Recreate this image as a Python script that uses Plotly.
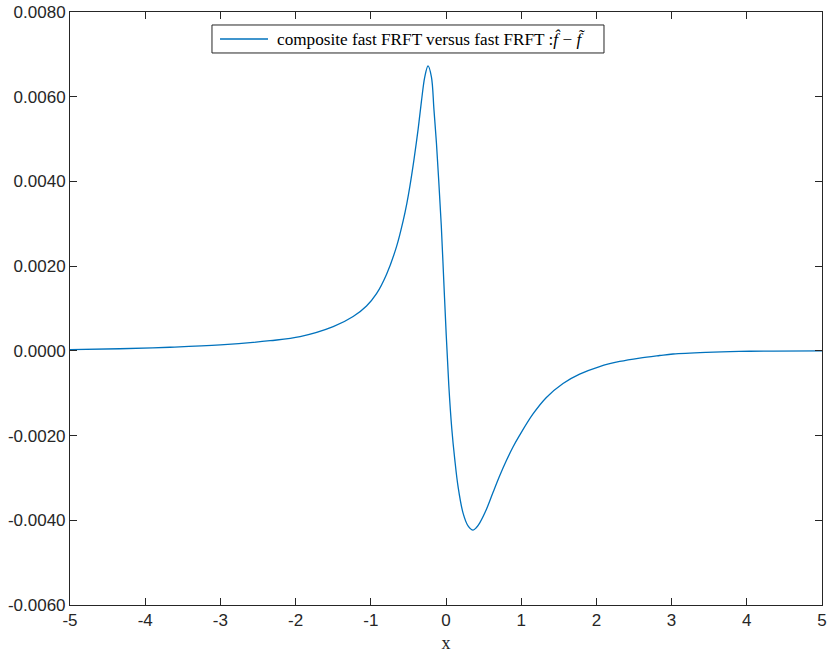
import plotly.graph_objects as go

# values
x_vals = [-5.0, -4.34, -3.67, -3.0, -2.34, -1.94, -1.5, -1.235, -1.057,
          -0.924, -0.79, -0.658, -0.57, -0.52, -0.48, -0.424, -0.371, -0.326, -0.282,
          -0.239, -0.194, -0.16, -0.127, -0.096, -0.063, -0.030, 0.003, 0.037, 0.076,
          0.116, 0.16, 0.227, 0.293, 0.36, 0.405, 0.449, 0.538, 0.626, 0.714, 0.803,
          0.891, 0.98, 1.157, 1.335, 1.556, 1.777, 2.043, 2.31, 2.575, 2.84, 3.02,
          3.46, 3.90, 4.35, 5.0]
err_vals = [0.000028, 0.00005, 0.000085, 0.00014, 0.00024, 0.000335, 0.00057,
            0.00081, 0.00106, 0.00135, 0.00181, 0.00246, 0.00307, 0.00349, 0.00389,
            0.00454, 0.00523, 0.00590, 0.00647, 0.00673, 0.00647, 0.00569,
            0.0049, 0.00400, 0.00297, 0.00167, 0.000375, -0.000805, -0.00182,
            -0.00255, -0.0032, -0.00383, -0.00413, -0.00423, -0.00417, -0.00406,
            -0.00374, -0.00334, -0.00295, -0.00259, -0.00227, -0.00199, -0.00149,
            -0.00110, -0.00077, -0.00055, -0.00037, -0.00025, -0.00017, -0.00011,
            -0.000074, -0.000035, -0.000013, -0.000004, 0.0]

x_ticks = [-5, -4, -3, -2, -1, 0, 1, 2, 3, 4, 5]
x_ticktext = ["-5", "-4", "-3", "-2", "-1", "0", "1", "2", "3", "4", "5"]
y_ticks = [-0.006, -0.004, -0.002, 0.0, 0.002, 0.004, 0.006, 0.008]
y_ticktext = ["-0.0060", "-0.0040", "-0.0020", "0.0000", "0.0020", "0.0040",
              "0.0060", "0.0080"]

legend_name = "composite fast FRFT versus fast FRFT :<i>f\u0302</i> \u2212 <i>f\u0303</i>"
line_color = '#0072BD'

fig = go.Figure()
fig.add_trace(go.Scatter(x=x_vals, y=err_vals, mode='lines', name=legend_name,
                         line=dict(color=line_color, width=1.3, shape='spline', smoothing=1)))

axis_style = dict(showline=True, linecolor='#262626', linewidth=1, mirror='ticks',
                  ticks='inside', ticklen=7, tickcolor='#262626', tickwidth=1,
                  showgrid=False, zeroline=False, automargin=False,
                  tickfont=dict(family='Liberation Sans', size=17, color='#262626'))

# matlab style legend box drawn by hand (paper coords of the plot area)
fig.add_shape(type='rect', xref='paper', yref='paper', x0=0.1888, x1=0.7101, y0=0.9309, y1=0.9781,
              line=dict(color='#262626', width=1), fillcolor='white', layer='above')
fig.add_shape(type='line', xref='paper', yref='paper', x0=0.1995, x1=0.2633, y0=0.9545, y1=0.9545,
              line=dict(color=line_color, width=1.3), layer='above')
fig.add_annotation(text=legend_name, xref='paper', yref='paper', x=0.2726, y=0.9545,
                   xanchor='left', yanchor='middle', showarrow=False,
                   font=dict(family='Liberation Serif', size=17.2, color='black'))

fig.update_layout(
    width=831, height=657,
    margin=dict(l=70, r=9, t=12, b=52),
    paper_bgcolor='white', plot_bgcolor='white',
    showlegend=False,
    xaxis=dict(range=[-5, 5], tickvals=x_ticks, ticktext=x_ticktext,
               title=dict(text='x', font=dict(family='Liberation Serif', size=18, color='#262626'),
                          standoff=6),
               **axis_style),
    yaxis=dict(range=[-0.006, 0.008], tickvals=y_ticks, ticktext=y_ticktext,
               **axis_style),
)

# the page body has a default margin, drop it so the figure sits at 0,0
fig.write_html("out.html", config={'displayModeBar': False},
               post_script="document.body.style.margin='0';")
